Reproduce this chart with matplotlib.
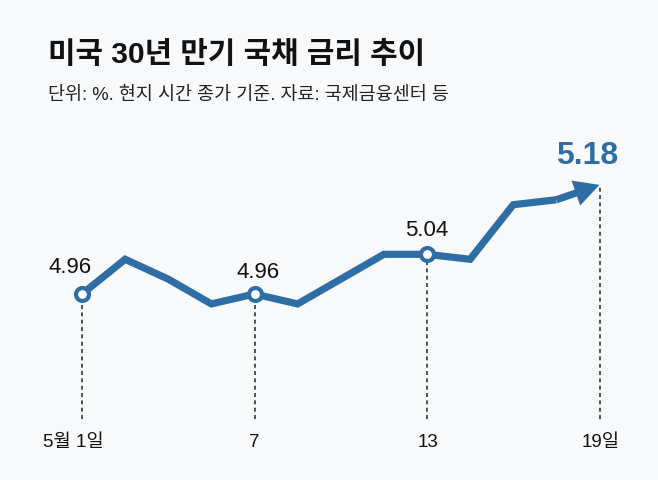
import matplotlib
matplotlib.use("Agg")
import matplotlib.pyplot as plt
from matplotlib import font_manager as fm
from matplotlib.patches import FancyArrowPatch, ArrowStyle

# ---------------- data ----------------
dates = [1, 2, 5, 6, 7, 8, 9, 12, 13, 14, 15, 16, 19]
rates = [4.96, 5.03, 4.99, 4.94, 4.96, 4.94, 4.99, 5.04, 5.04, 5.03, 5.14, 5.15, 5.18]
tick_days = [1, 7, 13, 19]
tick_labels = ["5월 1일", "7", "13", "19일"]
marked_days = [1, 7, 13]

title = "미국 30년 만기 국채 금리 추이"
subtitle = "단위: %. 현지 시간 종가 기준. 자료: 국제금융센터 등"

# ---------------- style ----------------
BLUE = "#2f6ea5"
BG = "#f7f9fb"
names = {f.name for f in fm.fontManager.ttflist}
HAS_NARROW = "Liberation Sans Narrow" in names
NARROW = "Liberation Sans Narrow" if HAS_NARROW else "Liberation Sans"
num_size = 18 if HAS_NARROW else 16
tick_size = 16 if HAS_NARROW else 13.5
KR = "Noto Sans CJK KR"

W, H = 658, 481
fig = plt.figure(figsize=(W / 100, H / 100), dpi=100, facecolor=BG)

# axes area: bottom at px 420, top at px 120
ax_bottom_px, ax_top_px = 420, 120
ax = fig.add_axes([0, 1 - ax_bottom_px / H, 1, (ax_bottom_px - ax_top_px) / H])
ax.set_facecolor(BG)
for s in ax.spines.values():
    s.set_visible(False)

idx = list(range(len(dates)))
# mapping: index 0 at px 82, index 12 at px 599.5 ; 4.96 at px 295, 496 px per 1%
px_per_idx = (599.5 - 82) / 12
ax.set_xlim(-82 / px_per_idx, (W - 82) / px_per_idx)
ax.set_ylim(4.96 - (ax_bottom_px - 295) / 496, 4.96 + (295 - ax_top_px) / 496)

pos = {d: i for i, d in enumerate(dates)}

# dashed guide lines
ylo = ax.get_ylim()[0]
for d in tick_days:
    i = pos[d]
    ax.plot([i, i], [ylo, rates[i]], color="#222222", lw=1.1,
            linestyle=(0, (2.6, 2.2)), zorder=1, clip_on=False)

# main line (up to second-to-last point)
ax.plot(idx[:-1], rates[:-1], color=BLUE, lw=5.2, solid_joinstyle="miter",
        solid_capstyle="butt", zorder=3, clip_on=False)

# arrow on last segment
arr = FancyArrowPatch((idx[-2], rates[-2]), (idx[-1], rates[-1]),
                      arrowstyle=ArrowStyle.Simple(head_length=18, head_width=19, tail_width=5.2),
                      mutation_scale=1, color=BLUE, lw=0, shrinkA=0, shrinkB=0,
                      zorder=3, clip_on=False)
ax.add_patch(arr)

# markers
mx = [pos[d] for d in marked_days]
my = [rates[pos[d]] for d in marked_days]
ax.plot(mx, my, "o", ms=9.3, mew=3.0, mfc="white", mec=BLUE, zorder=4, clip_on=False)

# value labels
offsets = {1: (-8.6, 15.8), 7: (2.5, 12.2), 13: (0, 13.9)}
for d in marked_days:
    i = pos[d]
    ax.annotate(f"{rates[i]:.2f}", (i, rates[i]), xytext=offsets[d], textcoords="offset points",
                ha="center", va="baseline", fontsize=num_size, family=[NARROW, KR],
                color="#111111", zorder=5)
ax.annotate(f"{rates[-1]:.2f}", (idx[-1], rates[-1]), xytext=(-8.6, 16), textcoords="offset points",
            ha="center", va="baseline", fontsize=23, fontweight="bold",
            family=["Liberation Sans", KR], color=BLUE, zorder=5)

# x tick labels
tick_dx = {1: -6, 7: 0, 13: 1, 19: 1}
for d, lab in zip(tick_days, tick_labels):
    ax.annotate(lab, (pos[d], 0), xycoords=("data", "axes fraction"),
                xytext=(tick_dx[d], -27 * 0.72), textcoords="offset points",
                ha="center", va="baseline", fontsize=tick_size,
                family=[NARROW, KR], color="#111111")

ax.set_xticks([])
ax.set_yticks([])

# titles
fig.text(48 / W, 1 - 63 / H, title, fontsize=21.5, fontweight="bold",
         family=[NARROW, KR], color="#111111", ha="left", va="baseline")
fig.text(48 / W, 1 - 100 / H, subtitle, fontsize=13.3, fontweight="light",
         family=[NARROW, KR], color="#222222", ha="left", va="baseline")

fig.savefig("out.png", dpi=100, facecolor=BG)
